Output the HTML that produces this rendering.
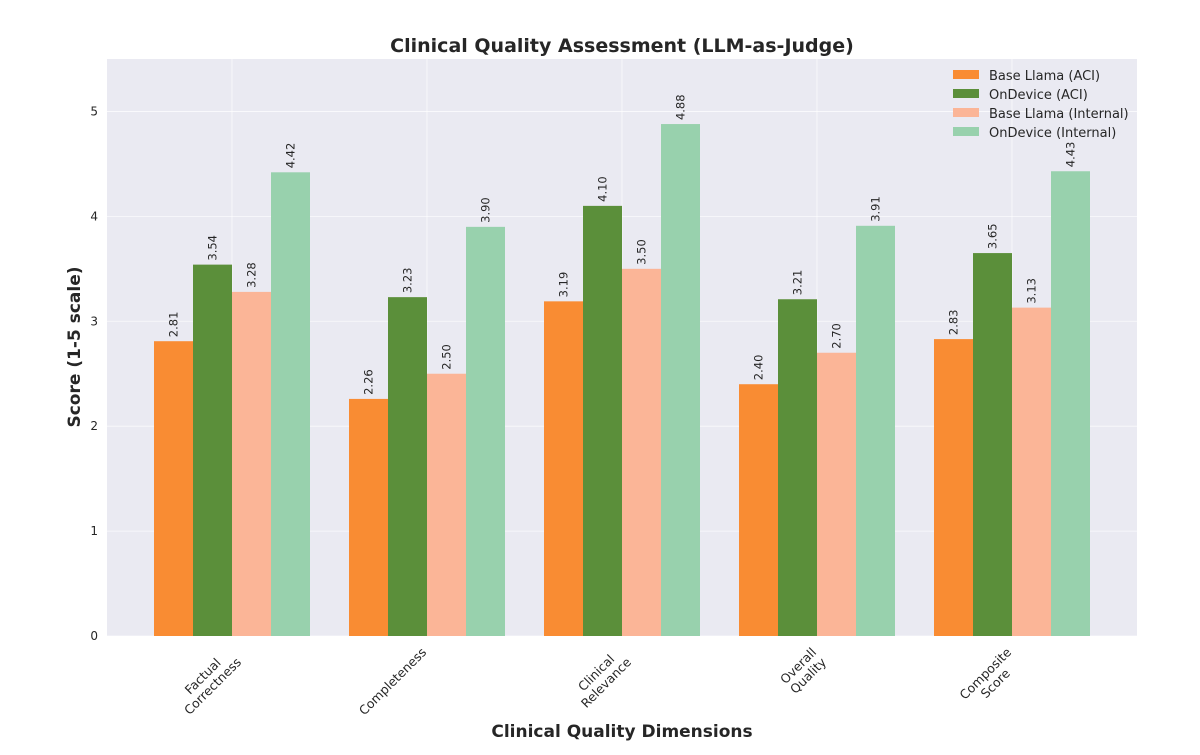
<!DOCTYPE html>
<html><head><meta charset="utf-8"><style>
body{margin:0;background:#fff;}
svg text{font-family:"DejaVu Sans","Liberation Sans",sans-serif;fill:#262626;}
</style></head><body>
<svg id="chart" width="1200" height="750" xmlns="http://www.w3.org/2000/svg">
<text x="622" y="52" text-anchor="middle" font-size="19" font-weight="bold">Clinical Quality Assessment (LLM-as-Judge)</text>
<rect x="107" y="59" width="1030" height="577" fill="#eaeaf2"/>
<g id="grid"></g><g id="bars"></g><g id="labels"></g><g id="ticks"></g>
<text x="622" y="737" text-anchor="middle" font-size="17" font-weight="bold">Clinical Quality Dimensions</text>
<text transform="translate(80,347) rotate(-90)" text-anchor="middle" font-size="17" font-weight="bold">Score (1-5 scale)</text>
<g id="legend"></g>
</svg>
<script>
const categories=[["Factual","Correctness"],["Completeness"],["Clinical","Relevance"],["Overall","Quality"],["Composite","Score"]];
const seriesNames=["Base Llama (ACI)","OnDevice (ACI)","Base Llama (Internal)","OnDevice (Internal)"];
const baseACI=[2.81,2.26,3.19,2.40,2.83];
const ondevACI=[3.54,3.23,4.10,3.21,3.65];
const baseInt=[3.28,2.50,3.50,2.70,3.13];
const ondevInt=[4.42,3.90,4.88,3.91,4.43];
const yTicks=[0,1,2,3,4,5];
const colors=["#f98c33","#5b8f3a","#fbb597","#98d1ad"];
const series=[baseACI,ondevACI,baseInt,ondevInt];
const NS="http://www.w3.org/2000/svg";
const L=107,R=1137,T=59,B=636,YMAX=5.5;
const y=v=>B-(B-T)*v/YMAX;
const step=195,x0=232;
const xc=i=>x0+i*step;
const bw=39;
function mk(tag,attrs,parent,txt){const e=document.createElementNS(NS,tag);for(const k in attrs)e.setAttribute(k,attrs[k]);if(txt!==undefined)e.textContent=txt;(typeof parent==="string"?document.getElementById(parent):parent).appendChild(e);return e;}
yTicks.forEach(t=>{
 const g=mk("line",{x1:L,x2:R,y1:y(t),y2:y(t),stroke:"#fff","stroke-width":0.8,"stroke-opacity":0.8},"grid");
 
 
 const tx=mk("text",{x:L-9,y:y(t)+4,"text-anchor":"end","font-size":12},"ticks",String(t));
 
 
});
categories.forEach((c,i)=>{
 const g=mk("line",{x1:xc(i),x2:xc(i),y1:T,y2:B,stroke:"#fff","stroke-width":0.8,"stroke-opacity":0.8},"grid");
 
 
 const grp=mk("g",{transform:`translate(${xc(i)-7},${B+10}) rotate(-45)`},"ticks");
 
 
 const els=c.map((ln,j)=>mk("text",{x:0,y:10+j*14,"text-anchor":"middle","font-size":12.5},grp,ln));
 const maxW=Math.max(...els.map(e=>e.getComputedTextLength()));
 els.forEach(e=>e.setAttribute("x",-maxW/2));
});
series.forEach((arr,s)=>{
 arr.forEach((v,i)=>{
  const bx=xc(i)-2*bw+s*bw;
  const r=mk("rect",{x:bx,y:y(v),width:bw,height:B-y(v),fill:colors[s]},"bars");
  
  
  const lx=bx+bw/2+4,ly=y(v)-4;
  const t=mk("text",{transform:`translate(${lx},${ly}) rotate(-90)`,"font-size":11.5},"labels",v.toFixed(2));
  
  
 });
});
seriesNames.forEach((n,k)=>{
 const yy=75+k*19;
 const r=mk("rect",{x:953,y:yy-5,width:26,height:9,fill:colors[k]},"legend");
 
 
 const t=mk("text",{x:989,y:yy+5,"font-size":13},"legend",n);
 
 
});
</script>
</body></html>
